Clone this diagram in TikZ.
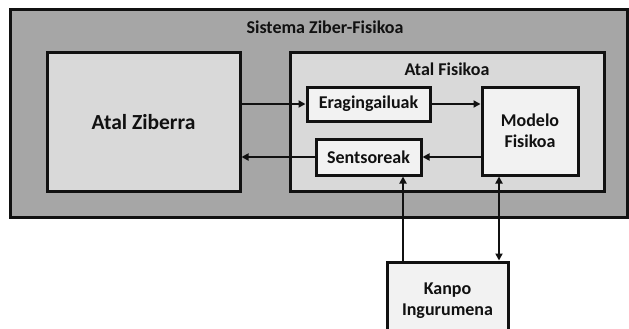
\documentclass[tikz,border=0pt]{standalone}
\usepackage{fontspec}
\setmainfont{Carlito}
\usetikzlibrary{arrows.meta,calc}
\definecolor{outergray}{HTML}{A6A6A6}
\definecolor{midgray}{HTML}{D9D9D9}
\definecolor{lightgray}{HTML}{F2F2F2}
\definecolor{ink}{HTML}{111111}
\tikzset{
  box/.style={draw=ink, line width=3pt, rectangle, inner sep=0pt, text=ink,
              font=\bfseries\fontsize{18}{21}\selectfont, align=center},
  flow/.style={draw=ink, line width=1.8pt, -{Triangle[length=7pt,width=7pt]}},
  biflow/.style={draw=ink, line width=1.8pt, {Triangle[length=7pt,width=7pt]}-{Triangle[length=7pt,width=7pt]}},
  heading/.style={text=ink, font=\bfseries\fontsize{18}{21}\selectfont}
}
\begin{document}
\begin{tikzpicture}[x=1pt,y=-1pt]
\useasboundingbox (0,0) rectangle (629,329);
\clip (0,0) rectangle (629,329);
\fill[white] (0,0) rectangle (629,329);

% enclosing system
\node[box, fill=outergray, minimum width=617pt, minimum height=207pt] (sys) at (318.5,113.5) {};
\node[heading] (systitle) at (325,27) {Sistema Ziber-Fisikoa};

% cyber part
\node[box, fill=midgray, minimum width=193pt, minimum height=138pt,
      font=\bfseries\fontsize{21.5}{25}\selectfont] (ziber) at (143.5,122) {Atal Ziberra};

% physical part
\node[box, fill=midgray, minimum width=314pt, minimum height=138pt] (fisiko) at (447,122) {};
\node[heading] (fistitle) at (447,69) {Atal Fisikoa};

\node[box, fill=lightgray, minimum width=123pt, minimum height=34pt] (erag) at (368.5,104) {Eragingailuak};
\node[box, fill=lightgray, minimum width=105pt, minimum height=36pt] (sents) at (368.5,157) {Sentsoreak};
\node[box, fill=lightgray, minimum width=96pt, minimum height=88pt] (modelo) at (530,131) {Modelo\\Fisikoa};

% environment (runs off the lower edge)
\node[box, fill=lightgray, minimum width=121pt, minimum height=78pt] (kanpo) at (447.5,301) {Kanpo\\Ingurumena};

% connectors
\coordinate (sx) at (403,0);
\coordinate (mx) at (499,0);
\draw[flow] (ziber.east |- erag) -- (erag.west);
\draw[flow] (erag.east) -- (modelo.west |- erag);
\draw[flow] (modelo.west |- sents) -- (sents.east);
\draw[flow] (sents.west) -- (ziber.east |- sents);
\draw[flow] (kanpo.north -| sx) -- (sents.south -| sx);
\draw[biflow] (kanpo.north -| mx) -- (modelo.south -| mx);
\end{tikzpicture}
\end{document}
